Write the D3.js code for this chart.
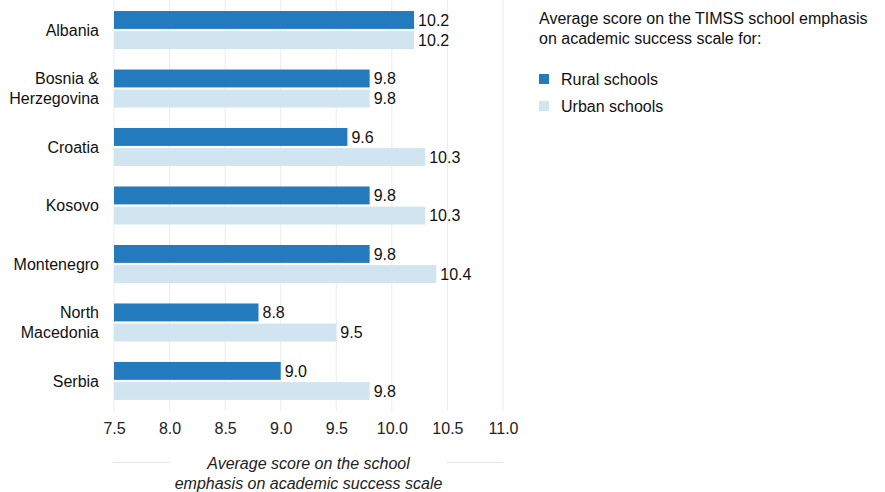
<!DOCTYPE html>
<html>
<head>
<meta charset="utf-8">
<script src="https://cdn.jsdelivr.net/npm/d3@7"></script>
<style>
  html, body { margin: 0; padding: 0; background: #fff; }
  svg { display: block; font-family: "Liberation Sans", Arial, sans-serif; }
</style>
</head>
<body>
<svg id="chart" width="885" height="492"></svg>
<script>
// Countries (multi-line names split with "\n")
const countries = ["Albania", "Bosnia &\nHerzegovina", "Croatia", "Kosovo", "Montenegro", "North\nMacedonia", "Serbia"];
const seriesNames = ["Rural schools", "Urban schools"];
const ruralValues = [10.2, 9.8, 9.6, 9.8, 9.8, 8.8, 9.0];
const urbanValues = [10.2, 9.8, 10.3, 10.3, 10.4, 9.5, 9.8];
const xTicks = [7.5, 8.0, 8.5, 9.0, 9.5, 10.0, 10.5, 11.0];
const colors = ["#237bbd", "#d1e5f0"];

const FS = 16;
const svg = d3.select("#chart");

const x = d3.scaleLinear().domain([7.5, 11.0]).range([114, 503]);
const y = d3.scaleBand().domain(countries).range([0.5, 410.5]).paddingInner(0.35).paddingOuter(0.18);
const sub = d3.scaleBand().domain(seriesNames).range([0, y.bandwidth()]).paddingInner(0.11);

// Vertical grid lines
svg.append("g")
  .selectAll("line")
  .data(xTicks)
  .join("line")
  .attr("x1", d => x(d)).attr("x2", d => x(d))
  .attr("y1", 0).attr("y2", 411)
  .attr("stroke", "#ececec").attr("stroke-width", 1);

// Tick labels
const xAxis = d3.axisBottom(x).tickValues(xTicks).tickFormat(d3.format(".1f")).tickSize(0).tickPadding(0);
const gx = svg.append("g").attr("transform", "translate(0,421)").call(xAxis);
gx.select(".domain").remove();
gx.selectAll("text")
  .attr("font-size", FS).attr("fill", "#222").attr("dy", "0.8em")
  .attr("font-family", "Liberation Sans, Arial, sans-serif");

// Bars
const rows = countries.map((c, i) => ({ c, vals: [ruralValues[i], urbanValues[i]] }));
const groups = svg.append("g").selectAll("g")
  .data(rows)
  .join("g")
  .attr("transform", d => `translate(0,${y(d.c)})`);

groups.selectAll("rect")
  .data(d => d.vals.map((v, k) => ({ v, k })))
  .join("rect")
  .attr("x", x(7.5))
  .attr("y", d => sub(seriesNames[d.k]))
  .attr("width", d => x(d.v) - x(7.5))
  .attr("height", sub.bandwidth())
  .attr("fill", d => colors[d.k]);

groups.selectAll("text.val")
  .data(d => d.vals.map((v, k) => ({ v, k })))
  .join("text")
  .attr("class", "val")
  .attr("x", d => x(d.v) + 4)
  .attr("y", d => sub(seriesNames[d.k]) + sub.bandwidth() / 2)
  .attr("dy", "0.36em")
  .attr("font-size", FS).attr("fill", "#111")
  .text(d => d3.format(".1f")(d.v));

// Country labels
groups.each(function (d) {
  const lines = d.c.split("\n");
  const t = d3.select(this).append("text")
    .attr("x", 99).attr("text-anchor", "end")
    .attr("font-size", FS).attr("fill", "#111");
  const lh = 20;
  const top = y.bandwidth() / 2 - (lines.length - 1) * lh / 2;
  lines.forEach((ln, j) => {
    t.append("tspan").attr("x", 99).attr("y", top + j * lh).attr("dy", "0.36em").text(ln);
  });
});

// Axis title with side rules
const titleLines = ["Average score on the school", "emphasis on academic success scale"];
svg.append("g").selectAll("text")
  .data(titleLines)
  .join("text")
  .attr("x", (x(7.5) + x(11.0)) / 2)
  .attr("y", (d, i) => 469 + i * 20)
  .attr("text-anchor", "middle")
  .attr("font-size", FS).attr("font-style", "italic").attr("fill", "#222")
  .text(d => d);
svg.append("line").attr("x1", 113).attr("x2", 170).attr("y1", 462.5).attr("y2", 462.5).attr("stroke", "#e6e6e6");
svg.append("line").attr("x1", 447).attr("x2", 503).attr("y1", 462.5).attr("y2", 462.5).attr("stroke", "#e6e6e6");

// Legend
const legend = svg.append("g");
legend.selectAll("text.title")
  .data(["Average score on the TIMSS school emphasis", "on academic success scale for:"])
  .join("text")
  .attr("class", "title")
  .attr("x", 539).attr("y", (d, i) => 24 + i * 20)
  .attr("font-size", FS).attr("fill", "#111")
  .text(d => d);
const items = legend.selectAll("g.item")
  .data(seriesNames)
  .join("g")
  .attr("class", "item")
  .attr("transform", (d, i) => `translate(539,${74 + i * 27})`);
items.append("rect").attr("width", 10).attr("height", 10).attr("fill", (d, i) => colors[i]);
items.append("text").attr("x", 22).attr("y", 5).attr("dy", "0.36em")
  .attr("font-size", FS).attr("fill", "#111").text(d => d);
</script>
</body>
</html>
